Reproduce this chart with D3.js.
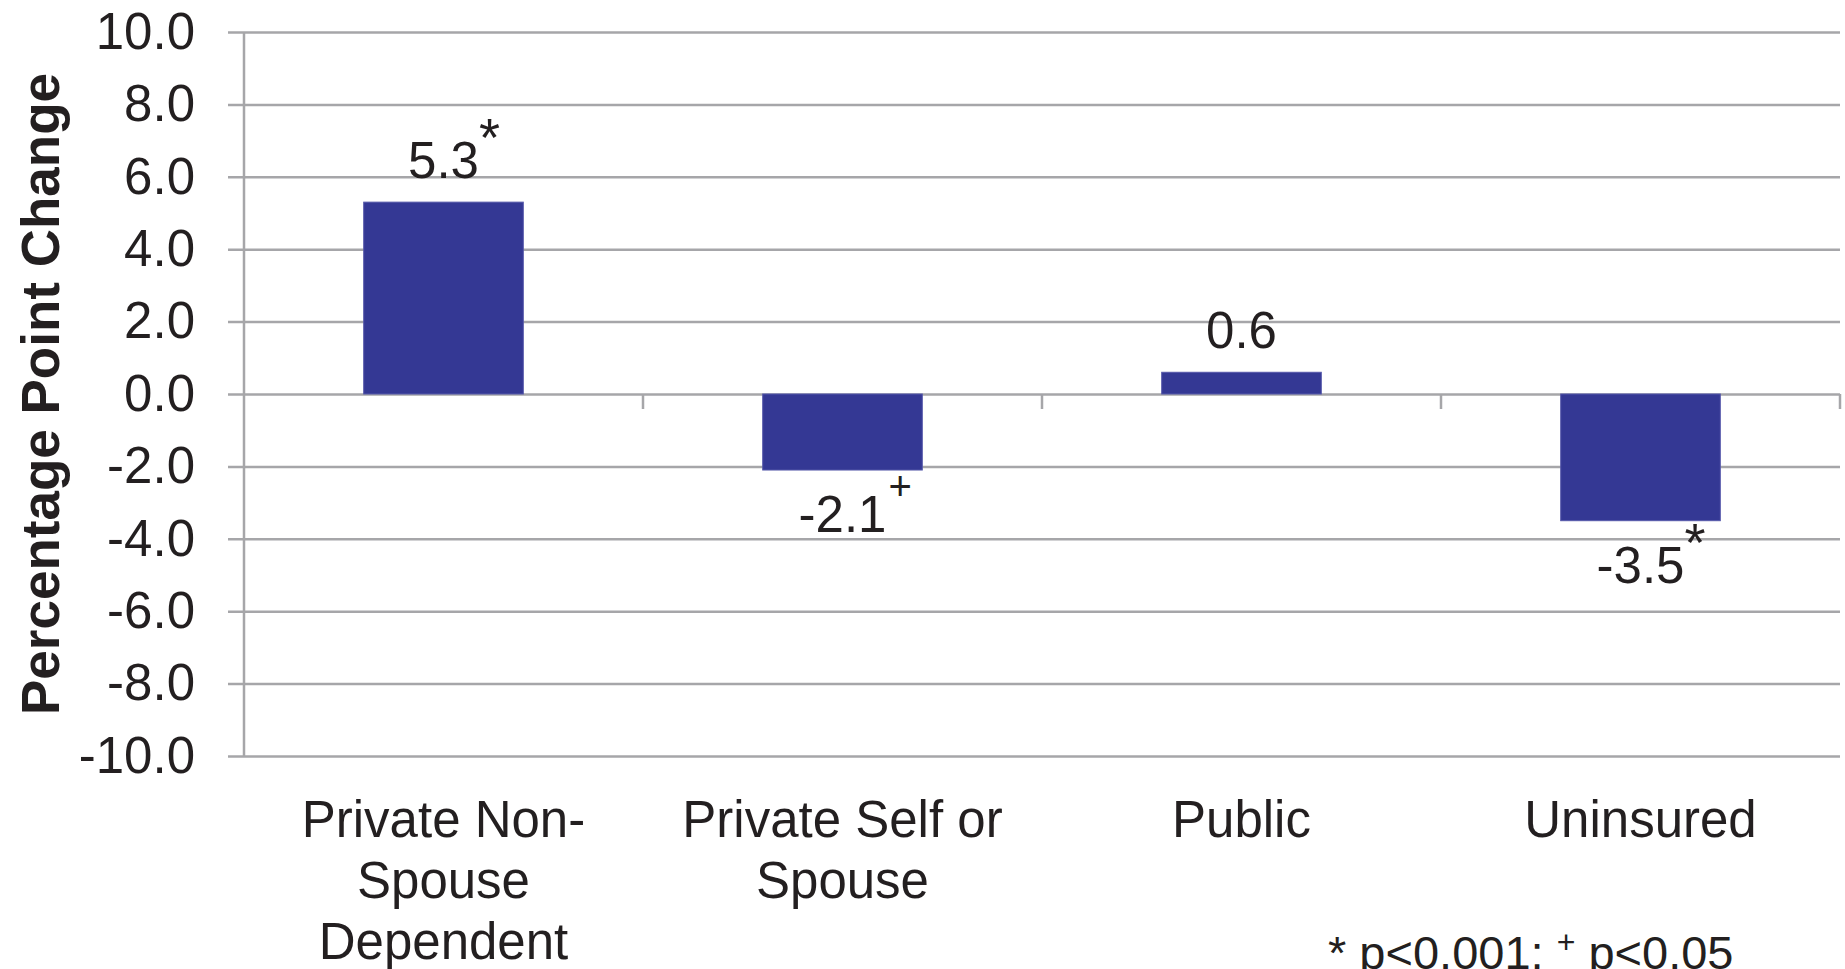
<!DOCTYPE html>
<html>
<head>
<meta charset="utf-8">
<script src="https://cdn.jsdelivr.net/npm/d3@7"></script>
<style>
    html, body { margin: 0; padding: 0; background: #fff; }
    svg { display: block; }
    text { font-family: "Liberation Sans", Arial, Helvetica, sans-serif; fill: #231f20; }
</style>
</head>
<body>
<script>
// chart data
const categories = ["Private Non-Spouse Dependent", "Private Self or Spouse", "Public", "Uninsured"];
const categoryLines = [["Private Non-", "Spouse", "Dependent"], ["Private Self or", "Spouse"], ["Public"], ["Uninsured"]];
const values = [5.3, -2.1, 0.6, -3.5];
const significance = ["*", "+", "", "*"];
const yTicks = [-10, -8, -6, -4, -2, 0, 2, 4, 6, 8, 10];

const width = 1845;
const height = 969;
const plotLeft = 244;
const plotRight = 1840;
const plotTop = 32;
const plotBottom = 756;
const gridColor = "#a6a6a9";
const barColor = "#343894";

const svg = d3.select("body")
    .append("svg")
    .attr("width", width)
    .attr("height", height);

const y = d3.scaleLinear()
    .domain([-10, 10])
    .range([plotBottom, plotTop]);

// one band per category, bars take the middle 40%
const xBand = d3.scaleBand()
    .domain(categories)
    .range([plotLeft, plotRight])
    .padding(0);

const x = d3.scaleBand()
    .domain(categories)
    .range([plotLeft, plotRight])
    .paddingInner(0.6)
    .paddingOuter(0.3);

// horizontal gridlines + y labels
const yAxis = d3.axisLeft(y)
    .tickValues(yTicks)
    .tickSizeInner(-(plotRight - 228))
    .tickSizeOuter(0)
    .tickPadding(33)
    .tickFormat(d => d.toFixed(1));

const yAxisG = svg.append("g")
    .attr("transform", "translate(228,0)")
    .call(yAxis);

yAxisG.select(".domain").remove();
yAxisG.selectAll(".tick line")
    .attr("stroke", gridColor)
    .attr("stroke-width", 2.5);
yAxisG.selectAll(".tick text")
    .style("font-size", "51px")
    .style("font-family", "'Liberation Sans', Arial, sans-serif")
    .attr("fill", "#231f20");

// vertical axis line
svg.append("line")
    .attr("x1", plotLeft).attr("x2", plotLeft)
    .attr("y1", y(10)).attr("y2", y(-10))
    .attr("stroke", gridColor)
    .attr("stroke-width", 2.5);

// category ticks below the zero line
svg.selectAll(".cat-tick")
    .data(categories)
    .enter()
    .append("line")
    .classed("cat-tick", true)
    .attr("x1", d => xBand(d) + xBand.bandwidth())
    .attr("x2", d => xBand(d) + xBand.bandwidth())
    .attr("y1", y(0))
    .attr("y2", y(0) + 15)
    .attr("stroke", gridColor)
    .attr("stroke-width", 2.5);

// bars
svg.selectAll(".bar")
    .data(values)
    .enter()
    .append("rect")
    .classed("bar", true)
    .attr("x", (d, i) => x(categories[i]))
    .attr("width", x.bandwidth())
    .attr("y", d => y(Math.max(0, d)))
    .attr("height", d => Math.abs(y(d) - y(0)))
    .attr("fill", barColor)
    .attr("stroke", "#5558aa")
    .attr("stroke-width", 1);

// value labels with significance marks
values.forEach((v, i) => {
    const cx = x(categories[i]) + x.bandwidth() / 2;
    const baseY = v >= 0 ? y(v) - 24 : y(v) + 62;
    const label = svg.append("text")
        .attr("x", cx)
        .attr("y", baseY)
        .attr("text-anchor", "middle")
        .style("font-size", "51px")
        .text(v.toFixed(1));

    if (significance[i]) {
        const w = label.node().getComputedTextLength();
        const star = significance[i] === "*";
        svg.append("text")
            .attr("x", cx + w / 2 + (star ? 0 : 2))
            .attr("y", baseY - (star ? 22 : 32))
            .style("font-size", star ? "54px" : "40px")
            .text(significance[i]);
    }
});

// category labels
categoryLines.forEach((lines, i) => {
    const t = svg.append("text")
        .attr("text-anchor", "middle")
        .style("font-size", "51px");
    lines.forEach((line, j) => {
        t.append("tspan")
            .attr("x", xBand(categories[i]) + xBand.bandwidth() / 2)
            .attr("y", 837 + j * 61)
            .text(line);
    });
});

// y axis title
svg.append("text")
    .attr("transform", `translate(59, ${(plotTop + plotBottom) / 2}) rotate(-90)`)
    .attr("text-anchor", "middle")
    .style("font-size", "53px")
    .style("font-weight", "bold")
    .text("Percentage Point Change");

// footnote
const note = svg.append("text")
    .attr("x", 1328)
    .attr("y", 969)
    .style("font-size", "47px");
note.append("tspan").text("* p<0.001; ");
note.append("tspan").attr("dy", -16).style("font-size", "32px").text("+");
note.append("tspan").attr("dy", 16).text(" p<0.05");
</script>
</body>
</html>
